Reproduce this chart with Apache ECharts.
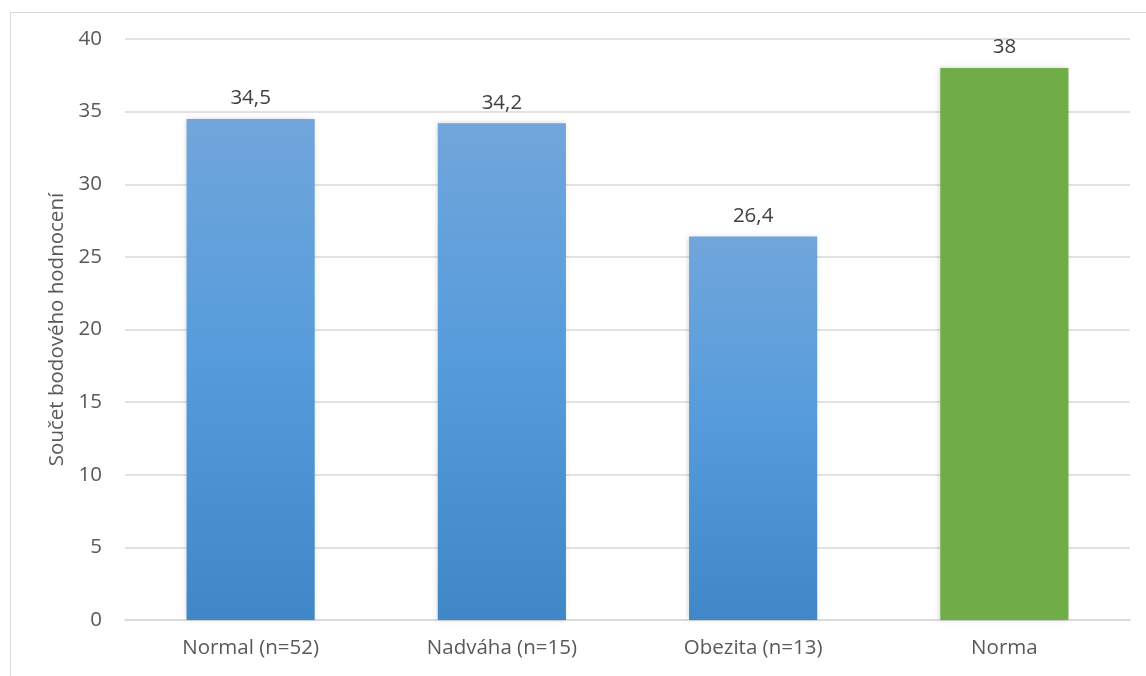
<!DOCTYPE html>
<html><head><meta charset="utf-8">
<script src="https://cdn.jsdelivr.net/npm/echarts@6/dist/echarts.min.js"></script>
<style>html,body{margin:0;padding:0;background:#fff}#c{width:1146px;height:676px}</style>
</head><body><div id="c"></div>
<script>
const categories = ["Normal (n=52)", "Nadváha (n=15)", "Obezita (n=13)", "Norma"];
const values = [34.5, 34.2, 26.4, 38];
const yTicks = {min: 0, max: 40, interval: 5};
const yName = "Součet bodového hodnocení";

const blueGrad = new echarts.graphic.LinearGradient(0, 0, 0, 1, [
  {offset: 0, color: '#70A6DB'}, {offset: 0.5, color: '#559BDC'}, {offset: 1, color: '#3F87C6'}
]);
const green = '#70AD47';
const font = '"Open Sans", "Noto Sans", sans-serif';
const chart = echarts.init(document.getElementById('c'), null, {renderer: 'canvas'});
chart.setOption({
  animation: false,
  backgroundColor: '#fff',
  graphic: [{type: 'rect', left: 8, top: 10, shape: {width: 1200, height: 700}, style: {fill: 'none', stroke: '#d9d9d9', lineWidth: 1}, z: -1}],
  grid: {left: 125, right: 16, top: 39, bottom: 56, containLabel: false},
  xAxis: {
    type: 'category', data: categories,
    axisLine: {lineStyle: {color: '#d9d9d9', width: 1.5}},
    axisTick: {show: false},
    axisLabel: {color: '#595959', fontSize: 20.5, fontFamily: font, margin: 18}
  },
  yAxis: {
    type: 'value', min: yTicks.min, max: yTicks.max, interval: yTicks.interval,
    name: yName, nameLocation: 'middle', nameGap: 54, nameRotate: 90,
    nameTextStyle: {color: '#595959', fontSize: 20.5, fontFamily: font},
    axisLine: {show: false}, axisTick: {show: false},
    axisLabel: {color: '#595959', fontSize: 20.5, fontFamily: font, margin: 23},
    splitLine: {lineStyle: {color: '#d9d9d9', width: 1.5}}
  },
  series: [{
    type: 'bar', barWidth: '51%',
    data: values.map((v, i) => ({value: v, itemStyle: {color: i === 3 ? green : blueGrad}})),
    itemStyle: {shadowColor: 'rgba(0,0,0,0.18)', shadowBlur: 5, shadowOffsetX: -1},
    label: {show: true, position: 'top', distance: 10, color: '#404040', fontSize: 20.5, fontFamily: font,
      formatter: p => String(p.value).replace('.', ',')}
  }]
});
</script></body></html>
